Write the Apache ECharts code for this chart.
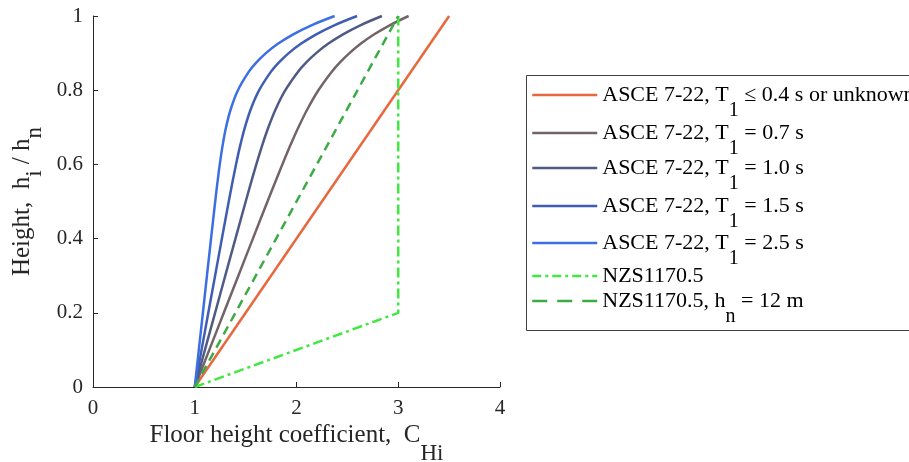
<!DOCTYPE html>
<html><head><meta charset="utf-8">
<script src="https://cdn.jsdelivr.net/npm/echarts@6/dist/echarts.min.js"></script>
<style>html,body{margin:0;padding:0;background:#fff}#c{width:909px;height:462px}</style>
</head><body><div id="c"></div>
<script>
// ---- data ----
const heightRatio = [0, 0.1, 0.2, 0.3, 0.4, 0.5, 0.55, 0.6, 0.65, 0.7, 0.75, 0.8, 0.85, 0.875, 0.9, 0.925, 0.95, 0.975, 1.0];
const chT07 = [1, 1.1429, 1.2857, 1.4286, 1.5715, 1.7149, 1.7874, 1.8612, 1.9376, 2.0190, 2.1094, 2.2152, 2.3469, 2.4272, 2.5205, 2.6303, 2.7604, 2.9157, 3.1020];
const chT10 = [1, 1.1, 1.2, 1.3, 1.4001, 1.5008, 1.5521, 1.6051, 1.6613, 1.7237, 1.7973, 1.8902, 2.0154, 2.0960, 2.1929, 2.3102, 2.4529, 2.6271, 2.84];
const chT15 = [1, 1.0667, 1.1333, 1.2000, 1.2668, 1.3342, 1.3690, 1.4056, 1.4458, 1.4929, 1.5523, 1.6331, 1.7495, 1.8277, 1.9239, 2.0426, 2.1895, 2.3711, 2.5956];
const chT25 = [1, 1.04, 1.08, 1.12, 1.1601, 1.2010, 1.2225, 1.2459, 1.2731, 1.3075, 1.3549, 1.4246, 1.5318, 1.6063, 1.6998, 1.8168, 1.9634, 2.1465, 2.3744];
const linearH = [0, 1];
const linearC = [1, 3.5];
const nzsH = [0, 0.2, 1];
const nzsC = [1, 3, 3];
const nzs12H = [0, 1];
const nzs12C = [1, 3];
const xTicks = [0, 1, 2, 3, 4];
const yTicks = [0, 0.2, 0.4, 0.6, 0.8, 1];

const seriesNames = ['asce04', 'asce07', 'asce10', 'asce15', 'asce25', 'nzs', 'nzs12'];
const legendRich = {
  asce04: '{m|ASCE 7-22, T}{s|1}{m| \u2264 0.4 s or unknown}',
  asce07: '{m|ASCE 7-22, T}{s|1}{m| = 0.7 s}',
  asce10: '{m|ASCE 7-22, T}{s|1}{m| = 1.0 s}',
  asce15: '{m|ASCE 7-22, T}{s|1}{m| = 1.5 s}',
  asce25: '{m|ASCE 7-22, T}{s|1}{m| = 2.5 s}',
  nzs: '{m|NZS1170.5}',
  nzs12: '{m|NZS1170.5, h}{s|n}{m| = 12 m}'
};
const hasSub = {asce04:1, asce07:1, asce10:1, asce15:1, asce25:1, nzs:0, nzs12:1};

function pairs(xs, ys) { return xs.map((x, i) => [x, ys[i]]); }

// ---- styling/layout ----
const FONT = 'Liberation Serif';
const AX = '#262626';
const SUBOFF = 32;
const rich = (main, sub, off, col) => ({
  m: {fontFamily: FONT, fontSize: main, lineHeight: main, color: col, verticalAlign: 'middle'},
  s: {fontFamily: FONT, fontSize: sub, lineHeight: sub, color: col, verticalAlign: 'middle', padding: [off, 0, 0, 0]}
});

const colors = {
  asce04: '#E8683D', asce07: '#736469', asce10: '#4F5B85', asce15: '#3F5DB3',
  asce25: '#3B6FE3', nzs: '#40E840', nzs12: '#3DAA45'
};
const dataMap = {
  asce04: pairs(linearC, linearH),
  asce07: pairs(chT07, heightRatio),
  asce10: pairs(chT10, heightRatio),
  asce15: pairs(chT15, heightRatio),
  asce25: pairs(chT25, heightRatio),
  nzs: pairs(nzsC, nzsH),
  nzs12: pairs(nzs12C, nzs12H)
};
const dashMap = {nzs: [10, 4, 3, 4], nzs12: [9, 6]};
const legendDash = {nzs: [9, 4, 3, 4], nzs12: [15, 10]};

const rowCenters = [96, 134, 169, 207, 244, 276, 302];

const legends = seriesNames.map((n, i) => ({
  data: [n],
  orient: 'vertical',
  left: 531,
  top: rowCenters[i] - (hasSub[n] ? (22 + SUBOFF) / 2 : 11),
  padding: 0,
  itemWidth: 65,
  itemHeight: 14,
  itemGap: 0,
  selectedMode: false,
  itemStyle: {opacity: 0},
  lineStyle: {width: 2.5, type: legendDash[n] || 'solid'},
  formatter: name => legendRich[name],
  textStyle: {rich: rich(22, 20, SUBOFF, '#000')}
}));

const series = seriesNames.map(n => ({
  name: n,
  type: 'line',
  data: dataMap[n],
  symbol: 'none',
  smooth: (n.startsWith('asce') && n !== 'asce04') ? 0.3 : false,
  lineStyle: {color: colors[n], width: 2.5, type: dashMap[n] || 'solid'},
  itemStyle: {color: colors[n]},
  z: 2,
  animation: false
}));

const option = {
  backgroundColor: '#fff',
  animation: false,
  grid: {left: 93, top: 16, right: 409, bottom: 75, containLabel: false, outerBoundsMode: 'none'},
  legend: legends,
  graphic: [{
    type: 'rect', left: 524, top: 73, z: 100, silent: true,
    shape: {width: 420, height: 255},
    style: {fill: 'none', stroke: '#404040', lineWidth: 1}
  }],
  xAxis: {
    type: 'value', min: xTicks[0], max: xTicks[xTicks.length - 1], interval: 1,
    axisLine: {lineStyle: {color: AX, width: 1}},
    axisTick: {inside: true, length: 5, lineStyle: {color: AX}},
    splitLine: {show: false},
    axisLabel: {fontFamily: FONT, fontSize: 21, color: AX, margin: 11},
    name: '{m|Floor height coefficient,  C}{s|Hi}',
    nameLocation: 'middle', nameGap: 36, nameMoveOverlap: false,
    nameTextStyle: {rich: rich(25, 23, 36, AX)}
  },
  yAxis: {
    type: 'value', min: yTicks[0], max: yTicks[yTicks.length - 1], interval: 0.2,
    axisLine: {show: true, lineStyle: {color: AX, width: 1}},
    axisTick: {show: true, inside: true, length: 5, lineStyle: {color: AX}},
    splitLine: {show: false},
    axisLabel: {fontFamily: FONT, fontSize: 21, color: AX, margin: 10},
    name: '{m|Height,  h}{s|i}{m| / h}{s|n}',
    nameLocation: 'middle', nameGap: 58, nameRotate: 90, nameMoveOverlap: false,
    nameTextStyle: {rich: rich(25, 23, 24, AX)}
  },
  series: series
};

const chart = echarts.init(document.getElementById('c'), null, {renderer: 'canvas'});
chart.setOption(option);
</script>
</body></html>
